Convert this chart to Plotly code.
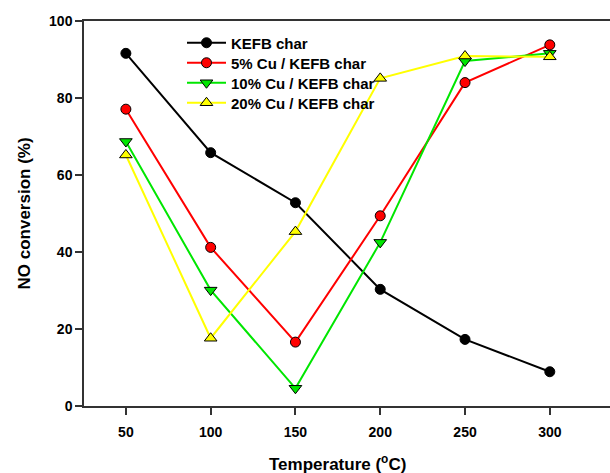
import plotly.graph_objects as go

temps = [50, 100, 150, 200, 250, 300]
kefb = [91.6, 65.8, 52.8, 30.3, 17.3, 8.9]
cu5 = [77.1, 41.2, 16.6, 49.4, 84.0, 93.8]
cu10 = [68.7, 30.1, 4.6, 42.5, 89.6, 91.6]
cu20 = [65.2, 17.6, 45.3, 85.1, 90.9, 90.7]

names = ["KEFB char", "5% Cu / KEFB char", "10% Cu / KEFB char", "20% Cu / KEFB char"]
series = [kefb, cu5, cu10, cu20]
colors = ["#000000", "#ff0000", "#00e600", "#ffff00"]
marker_fill = ["#000000", "#ff0000", "#00e600", "#ffff00"]
symbols = ["circle", "circle", "triangle-down", "triangle-up"]
sizes = [10, 10, 11, 11]

FONT = "Liberation Sans, Arial, sans-serif"
legend_ids = ["legend", "legend2", "legend3", "legend4"]
legend_rows_px = [43, 63, 83, 103]

# figure is a bit wider than the 610 px window so the plot frame runs off the right edge
W = 620
PLOT_W = W - 84

fig = go.Figure()
for n, s, c, f, sym, sz, lg in zip(names, series, colors, marker_fill, symbols, sizes, legend_ids):
    fig.add_trace(go.Scatter(
        x=temps, y=s, name=n, mode="lines+markers", legend=lg,
        line=dict(color=c, width=2),
        marker=dict(symbol=sym, size=sz, color=f, line=dict(color="#000000", width=1)),
    ))

legend_layout = {}
for lg, row in zip(legend_ids, legend_rows_px):
    legend_layout[lg] = dict(
        x=(182 - 84) / PLOT_W, y=(406 - row) / 385, xanchor="left", yanchor="middle",
        bgcolor="rgba(0,0,0,0)", borderwidth=0,
        font=dict(family=FONT, size=15, color="#000000", weight="bold"),
        itemwidth=39,
    )

fig.update_layout(
    width=W, height=473,
    margin=dict(l=84, r=0, t=21, b=67),
    paper_bgcolor="white", plot_bgcolor="white",
    font=dict(family=FONT, size=14, color="#000000", weight="bold"),
    showlegend=True,
    hovermode=False,
    xaxis=dict(
        range=[25.3, 341.4], tickvals=temps, ticktext=[str(t) for t in temps],
        showline=True, linecolor="#333333", linewidth=1.5, mirror=True,
        ticks="outside", ticklen=7, tickwidth=1.5, tickcolor="#333333",
        ticklabelstandoff=5,
        showgrid=False, zeroline=False,
        tickfont=dict(family=FONT, size=14, weight="bold"),
    ),
    yaxis=dict(
        range=[0, 100], tickvals=[0, 20, 40, 60, 80, 100],
        showline=True, linecolor="#333333", linewidth=1.5, mirror=False,
        ticks="outside", ticklen=7, tickwidth=1.5, tickcolor="#333333",
        showgrid=False, zeroline=False,
        tickfont=dict(family=FONT, size=14, weight="bold"),
    ),
    annotations=[
        dict(text="Temperature (<sup>o</sup>C)", xref="paper", yref="paper",
             x=(337 - 84) / PLOT_W, y=-(463 - 406) / 385, xanchor="center", yanchor="middle",
             showarrow=False, font=dict(family=FONT, size=17, weight="bold")),
        dict(text="NO conversion (%)", xref="paper", yref="paper",
             x=-(84 - 24) / PLOT_W, y=0.5, xanchor="center", yanchor="middle", textangle=-90,
             showarrow=False, font=dict(family=FONT, size=17, weight="bold")),
    ],
    **legend_layout,
)

fig.write_html(
    "out.html",
    config={"displayModeBar": False},
    post_script="document.body.style.margin='0';document.body.style.overflow='hidden';",
)
